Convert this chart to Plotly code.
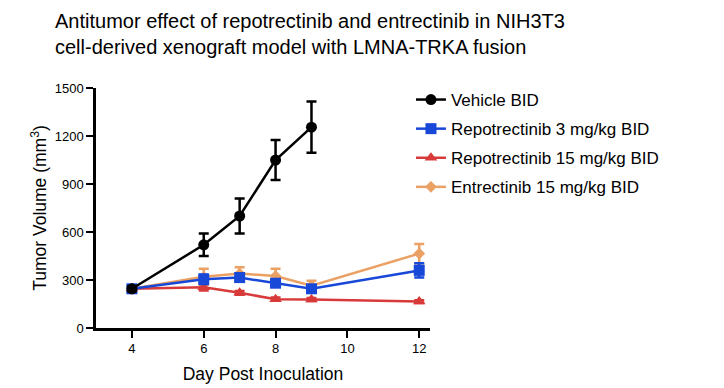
import plotly.graph_objects as go

days_vehicle = [4, 6, 7, 8, 9]
vehicle = [245, 520, 700, 1050, 1255]
vehicle_err = [15, 70, 110, 125, 160]

days_treat = [4, 6, 7, 8, 9, 12]
repo3 = [245, 305, 315, 280, 245, 360]
repo3_err = [15, 30, 25, 20, 20, 45]
repo15 = [245, 255, 220, 180, 178, 165]
repo15_err = [10, 20, 12, 10, 10, 8]
entre15 = [245, 320, 340, 325, 265, 465]
entre15_err = [10, 50, 40, 45, 30, 60]

names = ["Vehicle BID", "Repotrectinib 3 mg/kg BID",
         "Repotrectinib 15 mg/kg BID", "Entrectinib 15 mg/kg BID"]
colors = ["#000000", "#1848d8", "#d83a3a", "#eba064"]
symbols = ["circle", "square", "triangle-up", "diamond"]

series = [
    (days_vehicle, vehicle, vehicle_err),
    (days_treat, repo3, repo3_err),
    (days_treat, repo15, repo15_err),
    (days_treat, entre15, entre15_err),
]

fig = go.Figure()
for i in [3, 2, 1, 0]:
    x, y, e = series[i]
    fig.add_trace(go.Scatter(
        x=x, y=y, name=names[i], mode="lines+markers",
        legendgroup=names[i], legendrank=100 + i * 10,
        line=dict(color=colors[i], width=2.5),
        marker=dict(symbol=symbols[i], size=11 if i != 3 else 9, color=colors[i]),
        error_y=dict(type="data", array=e, color=colors[i], thickness=2.5, width=5),
    ))

# page body adds an 8 px offset, so the figure is 716x380
fig.update_layout(
    width=716, height=380,
    paper_bgcolor="white", plot_bgcolor="white",
    margin=dict(l=88, r=294, t=80, b=60, autoexpand=False),
    font=dict(family="Liberation Sans, Arial, sans-serif", color="#000"),
    title=dict(
        text="Antitumor effect of repotrectinib and entrectinib in NIH3T3<br>cell-derived xenograft model with LMNA-TRKA fusion",
        x=47 / 716, xref="container", xanchor="left",
        y=1, yref="container", yanchor="top",
        font=dict(size=20),
        pad=dict(t=20),
    ),
    legend=dict(
        x=0.943, xanchor="left", y=1.025, yanchor="top", xref="paper",
        font=dict(size=17), traceorder="grouped", tracegroupgap=4,
        bgcolor="rgba(0,0,0,0)",
    ),
    showlegend=True,
)
fig.update_xaxes(
    range=[3, 12.3], tickvals=[4, 6, 8, 10, 12], automargin=False,
    showline=True, linecolor="black", linewidth=2.5,
    ticks="outside", ticklen=7, tickwidth=2, tickcolor="black",
    showgrid=False, zeroline=False,
    tickfont=dict(size=13),
    title=dict(text="Day Post Inoculation", font=dict(size=17.5), standoff=13),
)
fig.update_yaxes(
    range=[0, 1500], tickvals=[0, 300, 600, 900, 1200, 1500], automargin=False,
    showline=True, linecolor="black", linewidth=2.5,
    ticks="outside", ticklen=7, tickwidth=2, tickcolor="black",
    showgrid=False, zeroline=False,
    tickfont=dict(size=13),
    title=dict(text="Tumor Volume (mm<sup>3</sup>)", font=dict(size=17.5), standoff=4),
)
fig.write_html("out.html")
